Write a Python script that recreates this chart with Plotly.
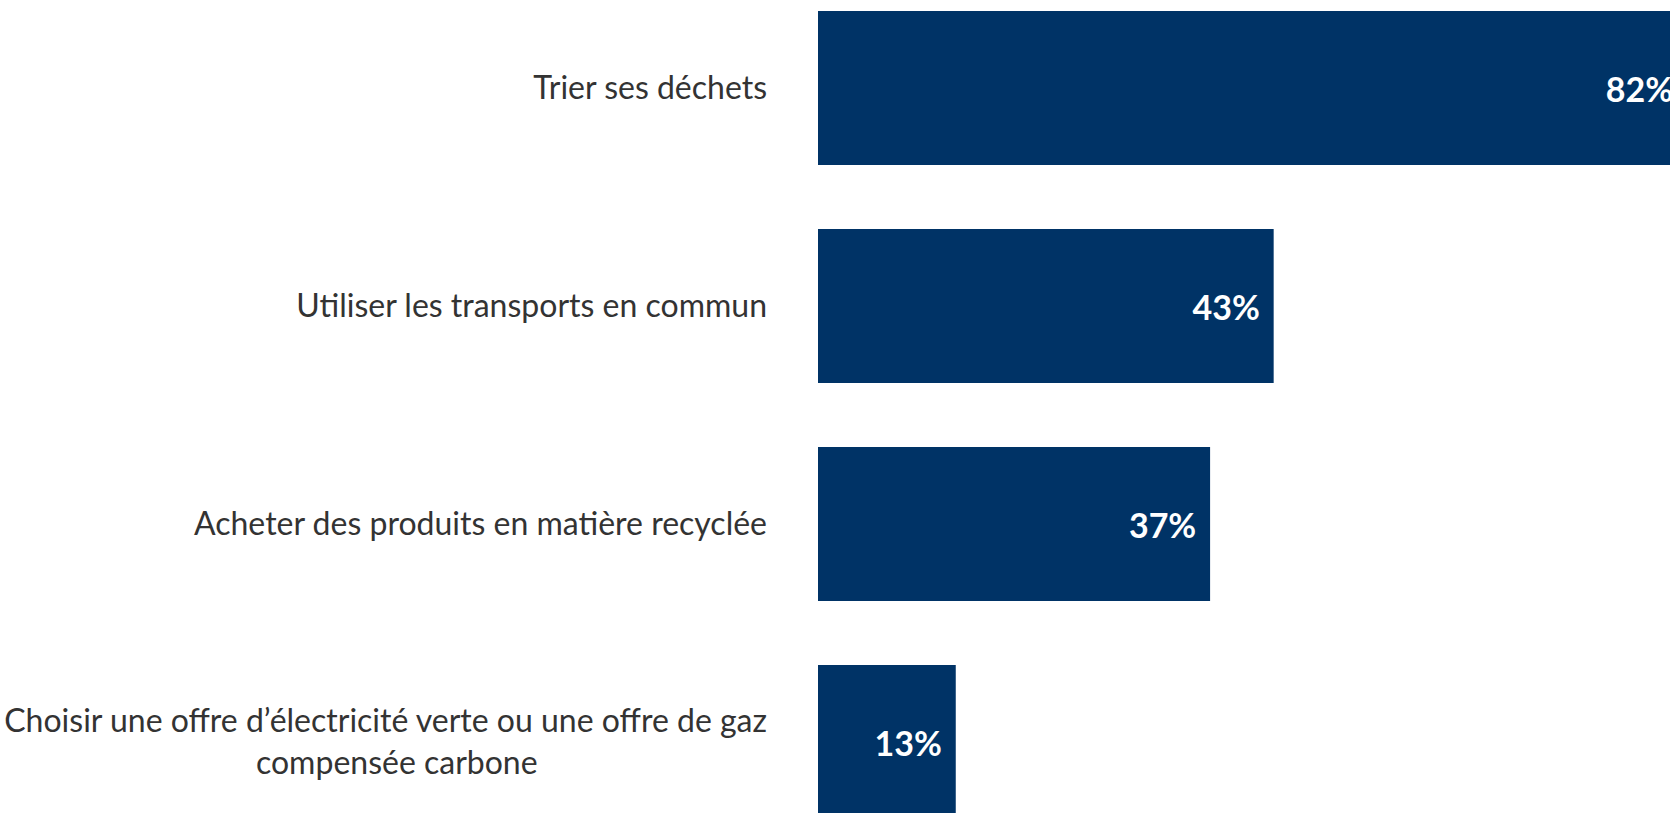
import plotly.graph_objects as go

categories = [
    "Trier ses déchets",
    "Utiliser les transports en commun",
    "Acheter des produits en matière recyclée",
    "Choisir une offre d’électricité verte ou une offre de gaz<br>compensée carbone" + "\u00a0" * 28,
]
values = [82, 43, 37, 13]

NB = "\u00a0"
fig = go.Figure(
    go.Bar(
        x=values,
        y=categories,
        orientation="h",
        marker=dict(color="#003366", line=dict(width=0)),
        texttemplate="<b>%{x}%</b>" + NB + "\u200a",
        textposition="inside",
        insidetextanchor="end",
        textangle=0,
        constraintext="none",
        insidetextfont=dict(family="Lato", size=34, color="white"),
        cliponaxis=True,
        hoverinfo="skip",
    )
)

fig.update_layout(
    width=1670,
    height=813,
    margin=dict(l=818, r=0, t=0, b=0),
    paper_bgcolor="white",
    plot_bgcolor="white",
    bargap=0.294,
    showlegend=False,
    font=dict(family="Lato", color="#333333"),
)
fig.update_xaxes(range=[0, 80.4], visible=False, showgrid=False, zeroline=False)
fig.update_yaxes(
    type="category",
    range=[3.3257, -0.4037],
    showgrid=False,
    zeroline=False,
    showline=False,
    ticks="",
    ticklabelstandoff=50,
    tickfont=dict(family="Lato", size=32, color="#333333"),
)

fig.write_html(
    "out.html",
    config={"displayModeBar": False, "staticPlot": True},
    post_script="document.body.style.margin='0';document.body.style.overflow='hidden';",
)
